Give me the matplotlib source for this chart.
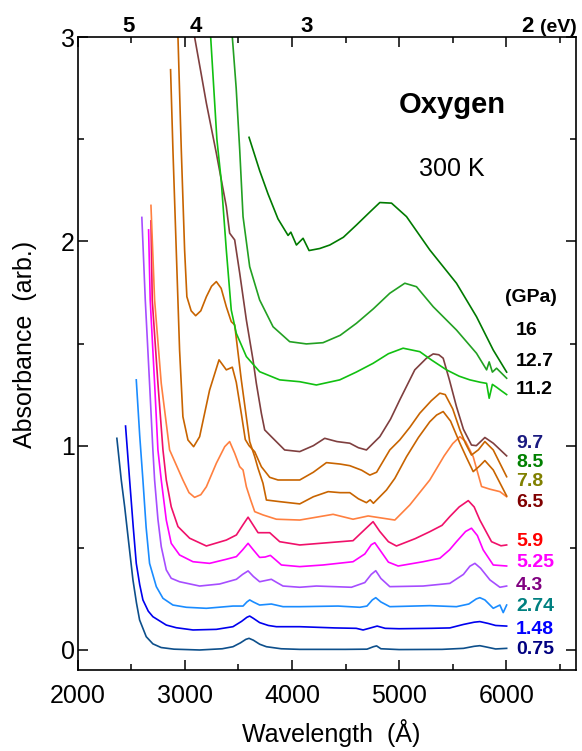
import matplotlib
matplotlib.use("Agg")
import matplotlib.pyplot as plt
from matplotlib.ticker import MultipleLocator

plt.rcParams['font.family'] = ['Liberation Sans', 'DejaVu Sans']

# Absorption spectra of solid oxygen at 300 K, offset curves, pressure in GPa
wl_075 = [2367, 2408, 2440, 2470, 2517, 2550, 2579, 2641, 2703, 2780, 2900, 3139, 3350, 3450, 3520, 3570,
          3600, 3640, 3700, 3762, 3900, 4073, 4500, 4700, 4760, 4790, 4830, 5000, 5400, 5600, 5700, 5753,
          5810, 5900, 6003]
ab_075 = [1.036, 0.832, 0.70, 0.56, 0.343, 0.23, 0.147, 0.065, 0.030, 0.012, 0.004, 0.0, 0.006, 0.016, 0.035,
          0.052, 0.057, 0.048, 0.028, 0.016, 0.006, 0.003, 0.003, 0.004, 0.016, 0.02, 0.006, 0.002, 0.003,
          0.008, 0.018, 0.021, 0.015, 0.005, 0.008]

wl_148 = [2448, 2486, 2520, 2548, 2580, 2610, 2660, 2703, 2828, 2921, 3077, 3295, 3450, 3530, 3580, 3606,
          3640, 3699, 3780, 3855, 4073, 4400, 4600, 4664, 4720, 4795, 4870, 5000, 5300, 5473, 5600, 5700,
          5753, 5830, 5900, 6003]
ab_148 = [1.096, 0.832, 0.60, 0.424, 0.32, 0.245, 0.19, 0.163, 0.122, 0.109, 0.098, 0.101, 0.114, 0.14, 0.16,
          0.166, 0.155, 0.134, 0.12, 0.114, 0.114, 0.108, 0.106, 0.098, 0.106, 0.117, 0.106, 0.104, 0.106,
          0.108, 0.125, 0.136, 0.139, 0.13, 0.12, 0.117]

wl_274 = [2548, 2580, 2610, 2640, 2672, 2735, 2797, 2890, 3015, 3202, 3450, 3544, 3580, 3606, 3640, 3699,
          3808, 3917, 4073, 4431, 4633, 4700, 4750, 4782, 4830, 4913, 5286, 5535, 5650, 5720, 5753, 5800,
          5878, 5940, 5971, 6003]
ab_274 = [1.322, 1.05, 0.832, 0.60, 0.424, 0.31, 0.253, 0.22, 0.209, 0.204, 0.215, 0.215, 0.235, 0.245,
          0.235, 0.22, 0.225, 0.212, 0.212, 0.215, 0.209, 0.215, 0.245, 0.256, 0.235, 0.212, 0.217, 0.212,
          0.225, 0.25, 0.256, 0.245, 0.204, 0.22, 0.183, 0.22]

wl_43 = [2600, 2632, 2672, 2703, 2719, 2750, 2781, 2828, 2874, 2952, 3139, 3326, 3482, 3540, 3591, 3640,
         3699, 3808, 3860, 3917, 4073, 4228, 4555, 4680, 4740, 4782, 4830, 4913, 5224, 5473, 5600, 5660,
         5707, 5760, 5847, 5940, 6003]
ab_43 = [2.117, 1.713, 1.305, 0.979, 0.832, 0.64, 0.506, 0.392, 0.351, 0.334, 0.313, 0.323, 0.346, 0.37,
         0.387, 0.36, 0.334, 0.346, 0.33, 0.313, 0.307, 0.313, 0.307, 0.33, 0.37, 0.388, 0.35, 0.31, 0.313,
         0.326, 0.37, 0.41, 0.424, 0.40, 0.343, 0.307, 0.313]

wl_525 = [2663, 2678, 2719, 2750, 2781, 2828, 2874, 2952, 3077, 3232, 3388, 3482, 3540, 3591, 3640, 3699,
          3750, 3799, 3850, 3902, 4073, 4290, 4570, 4680, 4740, 4773, 4820, 4900, 4991, 5224, 5380, 5470,
          5535, 5620, 5675, 5730, 5784, 5878, 6003]
ab_525 = [2.056, 1.713, 1.305, 0.979, 0.832, 0.636, 0.522, 0.465, 0.432, 0.424, 0.444, 0.457, 0.49, 0.522,
          0.49, 0.453, 0.455, 0.463, 0.44, 0.416, 0.408, 0.416, 0.432, 0.47, 0.515, 0.525, 0.49, 0.43,
          0.411, 0.432, 0.449, 0.49, 0.53, 0.58, 0.596, 0.56, 0.49, 0.416, 0.411]

wl_59 = [2685, 2697, 2750, 2797, 2828, 2874, 2937, 3046, 3202, 3388, 3482, 3540, 3591, 3640, 3684, 3793,
         3886, 4073, 4570, 4680, 4757, 4820, 4900, 4975, 5150, 5286, 5400, 5473, 5560, 5645, 5700, 5753,
         5862, 5950, 6003]
ab_59 = [2.10, 1.713, 1.305, 0.979, 0.832, 0.701, 0.604, 0.547, 0.509, 0.538, 0.563, 0.61, 0.65, 0.61,
         0.574, 0.574, 0.53, 0.514, 0.535, 0.59, 0.628, 0.58, 0.53, 0.509, 0.545, 0.579, 0.61, 0.653, 0.70,
         0.731, 0.70, 0.636, 0.53, 0.51, 0.514]

wl_65 = [2685, 2719, 2781, 2859, 2983, 3040, 3092, 3150, 3202, 3295, 3373, 3419, 3466, 3513, 3544, 3575,
         3615, 3653, 3730, 3855, 4073, 4384, 4570, 4711, 4960, 5100, 5286, 5420, 5500, 5567, 5620, 5691,
         5769, 5847, 5940, 6003]
ab_65 = [2.176, 1.713, 1.305, 0.979, 0.832, 0.77, 0.747, 0.76, 0.799, 0.914, 0.995, 1.02, 0.963, 0.897,
         0.881, 0.799, 0.734, 0.677, 0.661, 0.640, 0.636, 0.664, 0.64, 0.656, 0.636, 0.71, 0.832, 0.95,
         1.01, 1.044, 1.02, 0.946, 0.80, 0.787, 0.775, 0.750]

wl_78 = [2937, 2968, 2999, 3020, 3060, 3102, 3150, 3202, 3250, 3295, 3340, 3388, 3434, 3466, 3528, 3606,
         3653, 3684, 3730, 3762, 3886, 4073, 4200, 4338, 4450, 4540, 4620, 4695, 4730, 4760, 4882, 4960,
         5069, 5180, 5286, 5350, 5411, 5480, 5567, 5630, 5691, 5750, 5800, 5878, 6003]
ab_78 = [3.0, 2.447, 1.957, 1.729, 1.66, 1.636, 1.66, 1.729, 1.78, 1.803, 1.77, 1.68, 1.607, 1.591, 1.321,
         1.02, 0.946, 0.889, 0.816, 0.734, 0.726, 0.715, 0.75, 0.775, 0.77, 0.770, 0.74, 0.721, 0.735, 0.718,
         0.783, 0.84, 0.946, 1.04, 1.117, 1.15, 1.167, 1.12, 1.012, 0.94, 0.873, 0.9, 0.927, 0.881, 0.754]

wl_85 = [2868, 2890, 2921, 2952, 2983, 3030, 3083, 3139, 3232, 3320, 3388, 3444, 3481, 3530, 3565, 3600,
         3653, 3715, 3793, 3870, 4073, 4200, 4322, 4450, 4540, 4650, 4727, 4790, 4913, 5006, 5100, 5193,
         5300, 5380, 5430, 5500, 5567, 5620, 5675, 5740, 5800, 5878, 6003]
ab_85 = [2.84, 2.447, 1.957, 1.468, 1.142, 1.028, 0.995, 1.044, 1.272, 1.42, 1.371, 1.384, 1.31, 1.15, 1.03,
         1.0, 0.97, 0.897, 0.845, 0.832, 0.832, 0.87, 0.917, 0.91, 0.902, 0.88, 0.856, 0.87, 0.979, 1.028,
         1.09, 1.159, 1.22, 1.257, 1.25, 1.18, 1.077, 1.01, 0.954, 0.98, 1.02, 0.979, 0.848]

wl_97 = [3092, 3150, 3202, 3295, 3388, 3419, 3466, 3513, 3575, 3637, 3668, 3715, 3746, 3808, 3932, 4073,
         4200, 4306, 4420, 4540, 4620, 4695, 4820, 4920, 5006, 5146, 5255, 5318, 5370, 5411, 5470, 5535,
         5600, 5675, 5720, 5800, 5878, 6003]
ab_97 = [3.0, 2.83, 2.676, 2.431, 2.170, 2.040, 2.007, 1.844, 1.615, 1.42, 1.305, 1.158, 1.077, 1.044,
         0.979, 0.971, 1.0, 1.036, 1.02, 1.012, 0.99, 0.979, 1.044, 1.13, 1.224, 1.371, 1.428, 1.449, 1.445,
         1.428, 1.32, 1.191, 1.08, 1.003, 1.0, 1.04, 1.012, 0.95]

wl_112 = [3242, 3300, 3340, 3388, 3434, 3481, 3575, 3699, 3886, 4073, 4228, 4446, 4600, 4757, 4900, 5037,
          5193, 5300, 5442, 5560, 5660, 5760, 5816, 5840, 5870, 5909, 5950, 6003]
ab_112 = [3.0, 2.5, 2.3, 1.957, 1.664, 1.55, 1.436, 1.362, 1.322, 1.313, 1.297, 1.322, 1.36, 1.403, 1.45,
          1.477, 1.46, 1.42, 1.371, 1.34, 1.322, 1.31, 1.305, 1.232, 1.30, 1.286, 1.27, 1.25]

wl_127 = [3444, 3480, 3513, 3544, 3606, 3699, 3824, 3979, 4135, 4290, 4450, 4602, 4760, 4913, 5053, 5162,
          5318, 5535, 5722, 5816, 5840, 5870, 5909, 6003]
ab_127 = [3.0, 2.75, 2.447, 2.121, 1.876, 1.713, 1.582, 1.509, 1.498, 1.504, 1.54, 1.599, 1.67, 1.746,
          1.795, 1.778, 1.68, 1.566, 1.452, 1.371, 1.41, 1.36, 1.379, 1.33]

wl_16 = [3600, 3699, 3777, 3870, 3964, 3990, 4042, 4104, 4160, 4260, 4353, 4480, 4602, 4720, 4820, 4929,
         5069, 5286, 5535, 5722, 5878, 6003]
ab_16 = [2.509, 2.346, 2.232, 2.11, 2.029, 2.045, 1.982, 2.015, 1.955, 1.965, 1.982, 2.02, 2.08, 2.14, 2.19,
         2.187, 2.121, 1.958, 1.795, 1.631, 1.468, 1.36]

series = [
    (wl_075, ab_075, '#0d4f8b'),
    (wl_148, ab_148, '#0000ee'),
    (wl_274, ab_274, '#1a8cff'),
    (wl_43, ab_43, '#a64dff'),
    (wl_525, ab_525, '#ff00ff'),
    (wl_59, ab_59, '#f0106a'),
    (wl_65, ab_65, '#ff8040'),
    (wl_78, ab_78, '#c86400'),
    (wl_85, ab_85, '#c86400'),
    (wl_97, ab_97, '#7f3f3f'),
    (wl_112, ab_112, '#11c011'),
    (wl_127, ab_127, '#22a022'),
    (wl_16, ab_16, '#007a00'),
]

# pressure labels on the right (GPa)
pressures = ['16', '12.7', '11.2', '9.7', '8.5', '7.8', '6.5', '5.9', '5.25', '4.3', '2.74', '1.48', '0.75']
label_y = [1.566, 1.411, 1.273, 1.012, 0.917, 0.824, 0.721, 0.530, 0.427, 0.318, 0.212, 0.101, 0.0]
label_colors = ['black', 'black', 'black', '#1a1a80', '#008000', '#808000', '#800000',
                '#ff0000', '#ff00ff', '#800080', '#008080', '#0000ff', '#000080']

# photon energy marks on top axis (eV)
energies = [5, 4, 3, 2]

fig = plt.figure(figsize=(5.82, 7.51), dpi=100)
ax = fig.add_axes([0.1332, 0.1073, 0.8565, 0.8434])

for wl, ab, col in series:
    ax.plot(wl, ab, color=col, lw=1.2)

ax.set_xlim(2000, 6650)
ax.set_ylim(-0.1, 3)
ax.xaxis.set_major_locator(MultipleLocator(1000))
ax.xaxis.set_minor_locator(MultipleLocator(500))
ax.yaxis.set_major_locator(MultipleLocator(1))
ax.yaxis.set_minor_locator(MultipleLocator(0.5))
ax.tick_params(which='both', direction='in', top=True, right=True, width=1.1)
ax.tick_params(which='major', length=7.5, labelsize=18)
ax.tick_params(which='minor', length=4.5)
ax.tick_params(axis='x', pad=10)
ax.tick_params(axis='y', pad=2)
for sp in ax.spines.values():
    sp.set_linewidth(1.2)

ax.set_xlabel('Wavelength  (Å)', fontsize=18, va='center')
ax.xaxis.set_label_coords(0.5085, -0.099)
ax.set_ylabel('Absorbance  (arb.)', fontsize=18, va='center')
ax.yaxis.set_label_coords(-0.105, 0.514)

ax.text(5492, 2.668, 'Oxygen', fontsize=21, fontweight='bold', ha='center', va='center')
ax.text(5492, 2.354, '300 K', fontsize=18, ha='center', va='center')

ax.text(5987, 1.723, '(GPa)', fontsize=14, fontweight='bold', ha='left', va='center')
for txt, y, col in zip(pressures, label_y, label_colors):
    ax.text(6090, y, txt, fontsize=14, fontweight='bold', color=col, ha='left', va='center')

for e in energies:
    ax.text(12398 / e, 3.026, str(e), fontsize=16, fontweight='bold',
            ha='center', va='baseline', clip_on=False)
ax.text(6315, 3.026, '(eV)', fontsize=14, fontweight='bold', ha='left', va='baseline', clip_on=False)

fig.savefig('out.png', dpi=100)
